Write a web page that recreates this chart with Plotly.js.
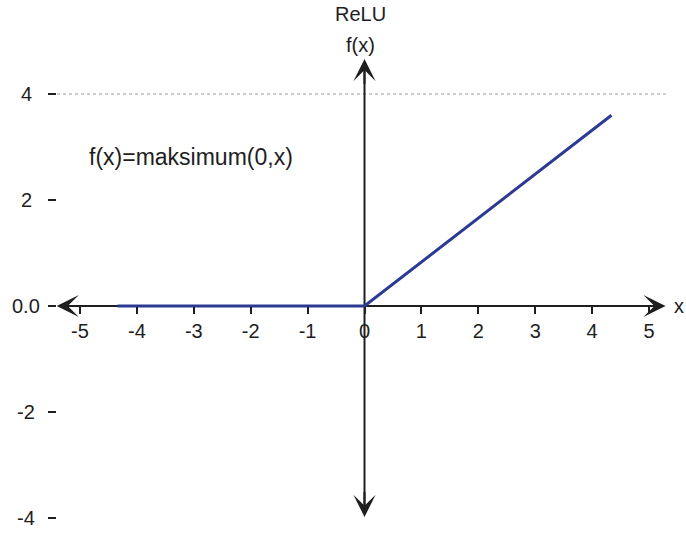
<!DOCTYPE html>
<html>
<head>
<meta charset="utf-8">
<script src="https://cdn.plot.ly/plotly-3.0.1.min.js"></script>
<style>html,body{margin:0;padding:0;background:#fff;}#chart{width:686px;height:536px;}</style>
</head>
<body>
<div id="chart"></div>
<script>
// Data
const reluX = [-4.34, 0, 4.34];
const reluY = [0, 0, 3.6];
const xTickVals = [-5, -4, -3, -2, -1, 0, 1, 2, 3, 4, 5];
const xTickText = ['-5', '-4', '-3', '-2', '-1', '0', '1', '2', '3', '4', '5'];
const yTickVals = [-4, -2, 0, 2, 4];
const yTickText = ['-4', '-2', '0.0', '2', '4'];
const titleText = 'ReLU';
const yLabel = 'f(x)';
const xLabel = 'x';
const formulaText = 'f(x)=maksimum(0,x)';

const ink = '#1e1e1e';
const font = 'Liberation Sans, Arial, sans-serif';
const xMin = -5.404, xMax = 5.351;
const yMin = -4.226, yMax = 4.736;
const xTip = 5.29, xTail = -5.41, yTip = 4.66, yTail = -3.98;

const trace = {
  x: reluX, y: reluY, type: 'scatter', mode: 'lines',
  line: {color: '#2b3a92', width: 3},
  hoverinfo: 'skip', showlegend: false
};

function head(x, y, ax, ay) {
  return {x: x, y: y, ax: ax, ay: ay, xref: 'x', yref: 'y', axref: 'x', ayref: 'y',
    text: '', showarrow: true, arrowhead: 3, arrowsize: 1.85, arrowwidth: 2, arrowcolor: ink};
}

// y tick labels are centred in a column left of the tick marks
const yLabelAnns = yTickVals.map((v, i) => ({
  x: (26 - 57) / 612, y: v, xref: 'paper', yref: 'y', xanchor: 'center', yanchor: 'middle',
  text: yTickText[i], showarrow: false, font: {size: 20, family: font, color: ink}
}));

const layout = {
  width: 686, height: 536,
  margin: {l: 57, r: 17, t: 55, b: 6},
  paper_bgcolor: '#fff', plot_bgcolor: '#fff',
  font: {family: font, color: ink},
  showlegend: false,
  xaxis: {
    range: [xMin, xMax], anchor: 'free', position: (0 - yMin) / (yMax - yMin),
    tickvals: xTickVals, ticktext: xTickText,
    ticks: 'outside', ticklen: 7, tickwidth: 2, tickcolor: ink,
    showgrid: false, zeroline: false, showline: false,
    tickfont: {size: 20, family: font, color: ink}
  },
  yaxis: {
    range: [yMin, yMax],
    tickvals: yTickVals, showticklabels: false,
    ticks: 'outside', ticklen: 8, tickwidth: 2, tickcolor: ink,
    showgrid: false, zeroline: false, showline: false
  },
  shapes: [
    {type: 'line', xref: 'paper', yref: 'y', x0: 0, x1: 1, y0: 4, y1: 4,
     line: {color: '#9a9a9a', width: 1, dash: 'dot'}, layer: 'below'},
    {type: 'line', xref: 'x', yref: 'y', x0: xTail + 0.2, x1: xTip - 0.2, y0: 0, y1: 0,
     line: {color: ink, width: 2}, layer: 'below'},
    {type: 'line', xref: 'x', yref: 'y', x0: 0, x1: 0, y0: yTail + 0.2, y1: yTip - 0.2,
     line: {color: ink, width: 2}, layer: 'below'}
  ],
  annotations: [
    head(xTip, 0, xTip - 0.5, 0),
    head(xTail, 0, xTail + 0.5, 0),
    head(0, yTip, 0, yTip - 0.5),
    head(0, yTail, 0, yTail + 0.5),
    {x: -4.87, y: 2.81, xref: 'x', yref: 'y', xanchor: 'left', yanchor: 'middle',
     text: formulaText, showarrow: false, font: {size: 23, family: font, color: ink}},
    {x: -0.07, y: (530 - 14) / 475, xref: 'x', yref: 'paper', xanchor: 'center', yanchor: 'middle',
     text: titleText, showarrow: false, font: {size: 20, family: font, color: ink}},
    {x: -0.07, y: (530 - 45) / 475, xref: 'x', yref: 'paper', xanchor: 'center', yanchor: 'middle',
     text: yLabel, showarrow: false, font: {size: 20, family: font, color: ink}},
    {x: (672 - 57) / 612, y: 0, xref: 'paper', yref: 'y', xanchor: 'left', yanchor: 'middle',
     text: xLabel, showarrow: false, font: {size: 20, family: font, color: ink}}
  ].concat(yLabelAnns)
};

Plotly.newPlot('chart', [trace], layout, {displayModeBar: false, staticPlot: true});
</script>
</body>
</html>
